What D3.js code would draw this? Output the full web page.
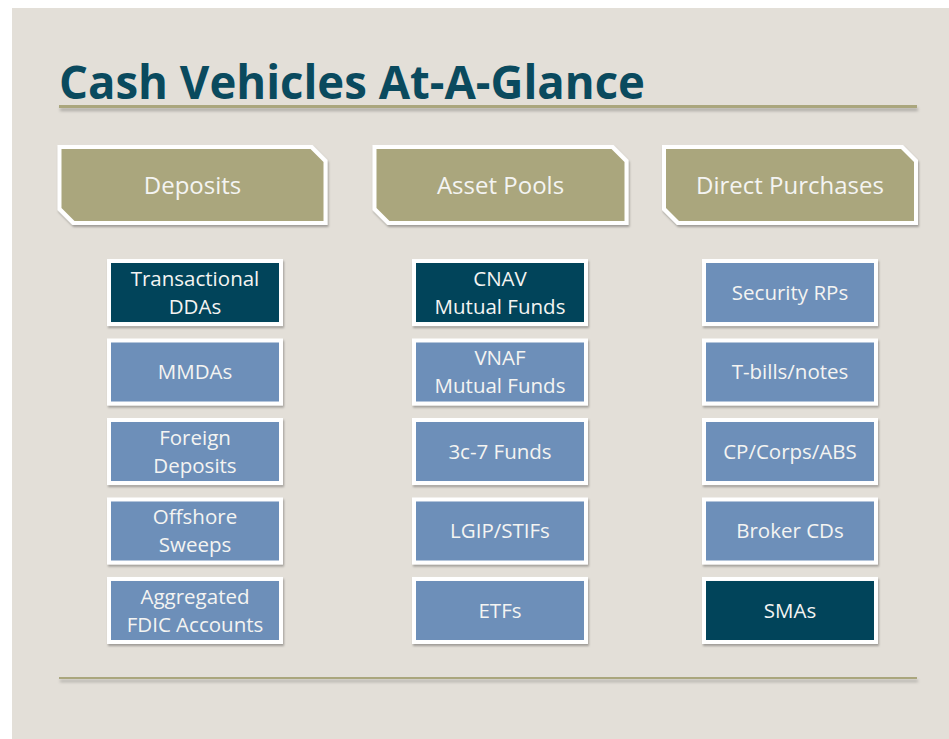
<!DOCTYPE html>
<html>
<head>
<meta charset="utf-8">
<script src="https://cdn.jsdelivr.net/npm/d3@7"></script>
<style>
  html, body { margin: 0; padding: 0; background: #ffffff; }
  svg { display: block; }
  text { font-family: "Open Sans", "Noto Sans", sans-serif; }
</style>
</head>
<body>
<div id="chart"></div>
<script>
// chart content
var title = "Cash Vehicles At-A-Glance";
var groups = ["Deposits", "Asset Pools", "Direct Purchases"];
var depositItems = ["Transactional\nDDAs", "MMDAs", "Foreign\nDeposits", "Offshore\nSweeps", "Aggregated\nFDIC Accounts"];
var poolItems = ["CNAV\nMutual Funds", "VNAF\nMutual Funds", "3c-7 Funds", "LGIP/STIFs", "ETFs"];
var directItems = ["Security RPs", "T-bills/notes", "CP/Corps/ABS", "Broker CDs", "SMAs"];
// which item in each column is highlighted (dark)
var highlighted = ["Transactional\nDDAs", "CNAV\nMutual Funds", "SMAs"];

var width = 949, height = 739;
var colors = {
    bg: "#e3dfd8",
    olive: "#aaa67d",
    dark: "#01445a",
    blue: "#6d8fb9",
    title: "#0a4a5e",
    text: "#f4f4f2"
};

var svg = d3.select("#chart").append("svg")
    .attr("width", width)
    .attr("height", height);

var defs = svg.append("defs");
var shadow = defs.append("filter").attr("id", "shadow")
    .attr("x", "-10%").attr("y", "-10%").attr("width", "130%").attr("height", "140%");
shadow.append("feDropShadow")
    .attr("dx", 1).attr("dy", 2).attr("stdDeviation", 1.3)
    .attr("flood-color", "#000").attr("flood-opacity", 0.3);
// rules need a filter region in user space (they are thin)
var ruleShadow = defs.append("filter").attr("id", "ruleShadow")
    .attr("filterUnits", "userSpaceOnUse")
    .attr("x", 0).attr("y", 0).attr("width", width).attr("height", height);
ruleShadow.append("feDropShadow")
    .attr("dx", 1).attr("dy", 3).attr("stdDeviation", 1.5)
    .attr("flood-color", "#000").attr("flood-opacity", 0.25);

// slide background
svg.append("rect")
    .attr("x", 12).attr("y", 8)
    .attr("width", width - 12).attr("height", height - 8)
    .style("fill", colors.bg);

// title
var titleText = svg.append("text")
    .attr("x", 59).attr("y", 99)
    .style("font-size", "47px")
    .style("font-weight", "bold")
    .style("fill", colors.title)
    .text(title);
titleText.attr("textLength", 586).attr("lengthAdjust", "spacingAndGlyphs");

// rules under title and at bottom
[{y: 105, h: 3}, {y: 677, h: 2}].forEach(function (r) {
    svg.append("rect")
        .attr("x", 59).attr("width", 858)
        .attr("y", r.y).attr("height", r.h)
        .style("fill", colors.olive)
        .attr("filter", "url(#ruleShadow)");
});

// column centres and row bands
var colX = d3.scaleOrdinal().domain(groups).range([195, 500, 790]);
var headX = d3.scaleOrdinal().domain(groups).range([192.5, 500.5, 790]);
var headerW = d3.scaleOrdinal().domain(groups).range([270, 256, 256]);
var rowY = d3.scaleBand().domain(d3.range(5)).range([259, 644]).paddingInner(0.157).paddingOuter(0);

var columns = [
    {name: groups[0], items: depositItems},
    {name: groups[1], items: poolItems},
    {name: groups[2], items: directItems}
];

// headers: boxes with cut top-right and bottom-left corners
var headTop = 145, headH = 80, cut = 15, border = 4;
function cutPath(x0, y0, w, h, c) {
    return "M" + x0 + "," + y0 +
        "L" + (x0 + w - c) + "," + y0 +
        "L" + (x0 + w) + "," + (y0 + c) +
        "L" + (x0 + w) + "," + (y0 + h) +
        "L" + (x0 + c) + "," + (y0 + h) +
        "L" + x0 + "," + (y0 + h - c) + "Z";
}

var head = svg.selectAll("g.header")
    .data(columns)
    .enter().append("g")
    .attr("class", "header");

head.append("path")
    .attr("d", function (d) {
        var w = headerW(d.name);
        return cutPath(headX(d.name) - w / 2, headTop, w, headH, cut);
    })
    .style("fill", "#ffffff")
    .attr("filter", "url(#shadow)");
head.append("path")
    .attr("d", function (d) {
        var w = headerW(d.name);
        return cutPath(headX(d.name) - w / 2 + border, headTop + border, w - 2 * border, headH - 2 * border, cut - 2);
    })
    .style("fill", colors.olive);
head.append("text")
    .attr("x", function (d) { return headX(d.name); })
    .attr("y", headTop + headH / 2 + 9)
    .attr("text-anchor", "middle")
    .style("font-size", "24px")
    .style("fill", colors.text)
    .text(function (d) { return d.name; });

// item boxes
var boxW = 176;
var cells = [];
columns.forEach(function (c) {
    c.items.forEach(function (it, i) {
        cells.push({group: c.name, label: it, row: i});
    });
});

var cell = svg.selectAll("g.cell")
    .data(cells)
    .enter().append("g")
    .attr("class", "cell")
    .attr("transform", function (d) {
        return "translate(" + (colX(d.group) - boxW / 2) + "," + rowY(d.row) + ")";
    });

cell.append("rect")
    .attr("width", boxW)
    .attr("height", rowY.bandwidth())
    .style("fill", "#ffffff")
    .attr("filter", "url(#shadow)");
cell.append("rect")
    .attr("x", border).attr("y", border)
    .attr("width", boxW - 2 * border)
    .attr("height", rowY.bandwidth() - 2 * border)
    .style("fill", function (d) {
        return highlighted.indexOf(d.label) >= 0 ? colors.dark : colors.blue;
    });

cell.each(function (d) {
    var lines = d.label.split("\n");
    var lh = 28;
    var mid = rowY.bandwidth() / 2;
    var t = d3.select(this).append("text")
        .attr("text-anchor", "middle")
        .style("font-size", "20.5px")
        .style("fill", colors.text);
    lines.forEach(function (ln, i) {
        t.append("tspan")
            .attr("x", boxW / 2)
            .attr("y", mid + 7.5 + (i - (lines.length - 1) / 2) * lh)
            .text(ln);
    });
});
</script>
</body>
</html>
